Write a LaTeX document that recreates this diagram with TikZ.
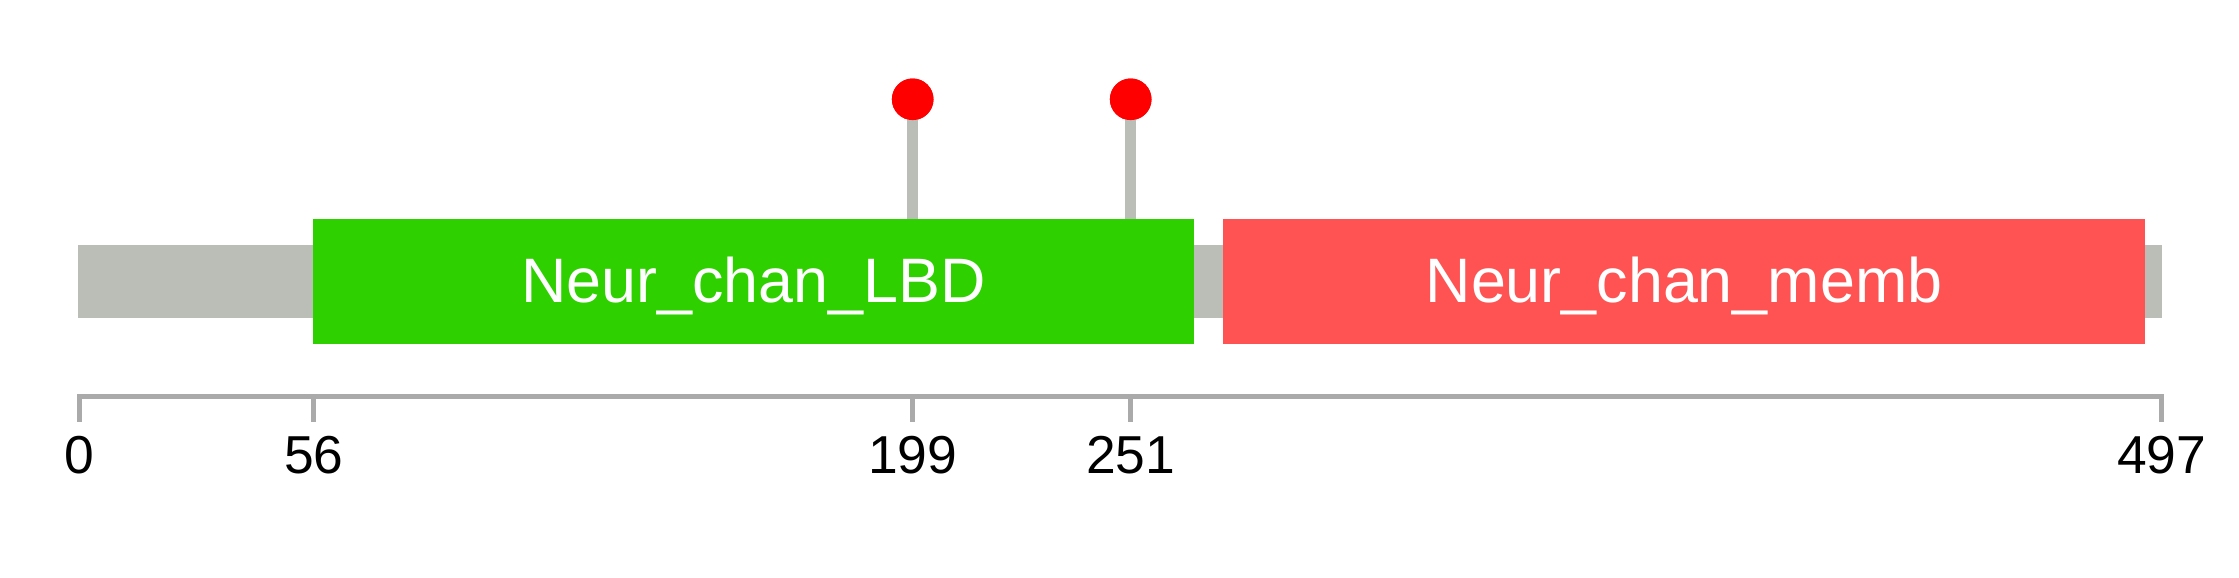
\documentclass[tikz,border=0pt]{standalone}
\usepackage{fontspec}
\setmainfont{Liberation Sans}
\usetikzlibrary{positioning}
\definecolor{backbone}{RGB}{187,190,183}
\definecolor{lbdgreen}{RGB}{46,208,0}
\definecolor{membred}{RGB}{255,83,83}
\definecolor{sitered}{RGB}{255,0,0}
\definecolor{axisgrey}{RGB}{170,170,170}

\begin{document}
\begin{tikzpicture}[x=0.5pt,y=-0.5pt,
	domain/.style={fill=#1, minimum height=62.5pt, inner sep=0pt},
	domtext/.style={anchor=base, text=white, inner sep=0pt, font=\fontsize{31.4}{31.4}\selectfont},
	site/.style={circle, fill=sitered, minimum size=20.8pt, inner sep=0pt},
	stem/.style={draw=backbone, line width=5.5pt},
	axisline/.style={draw=axisgrey, line width=2.5pt},
	ticklabel/.style={anchor=base, inner sep=0pt, font=\fontsize{26.7}{26.7}\selectfont}]
	\useasboundingbox (0,0) rectangle (2239,578);
	
	% backbone
	\fill[backbone] (78,245) rectangle (2162,318);
	
	% domains
	\node[domain=lbdgreen, minimum width=440.5pt] (lbd) at (753.5,281.5) {};
	\node[domain=membred, minimum width=461.3pt] (memb) at (1684,281.5) {};
	\node[domtext] (lbdtxt) at (753.5,302) {Neur\_chan\_LBD};
	\node[domtext] (membtxt) at (1684,302) {Neur\_chan\_memb};
	
	% mutation sites
	\coordinate (foot199) at (912.7,219);
	\coordinate (foot251) at (1130.7,219);
	\node[site] (site199) at (912.7,99.3) {};
	\node[site] (site251) at (1130.7,99.3) {};
	\draw[stem] (foot199) -- (site199.center);
	\draw[stem] (foot251) -- (site251.center);
	\node[site] at (site199) {};
	\node[site] at (site251) {};
	
	% axis
	\draw[axisline] (79,422) -- (79,396) -- (2161.7,396) -- (2161.7,422);
	\foreach \lab/\xx in {0/79, 56/313.7, 199/912.7, 251/1130.7, 497/2161.7} {
		\coordinate (tick\lab) at (\xx,396);
		\draw[axisline] (tick\lab) -- ++(0,26);
		\node[ticklabel] (lab\lab) at (\xx,473) {\lab};
	}
\end{tikzpicture}
\end{document}
